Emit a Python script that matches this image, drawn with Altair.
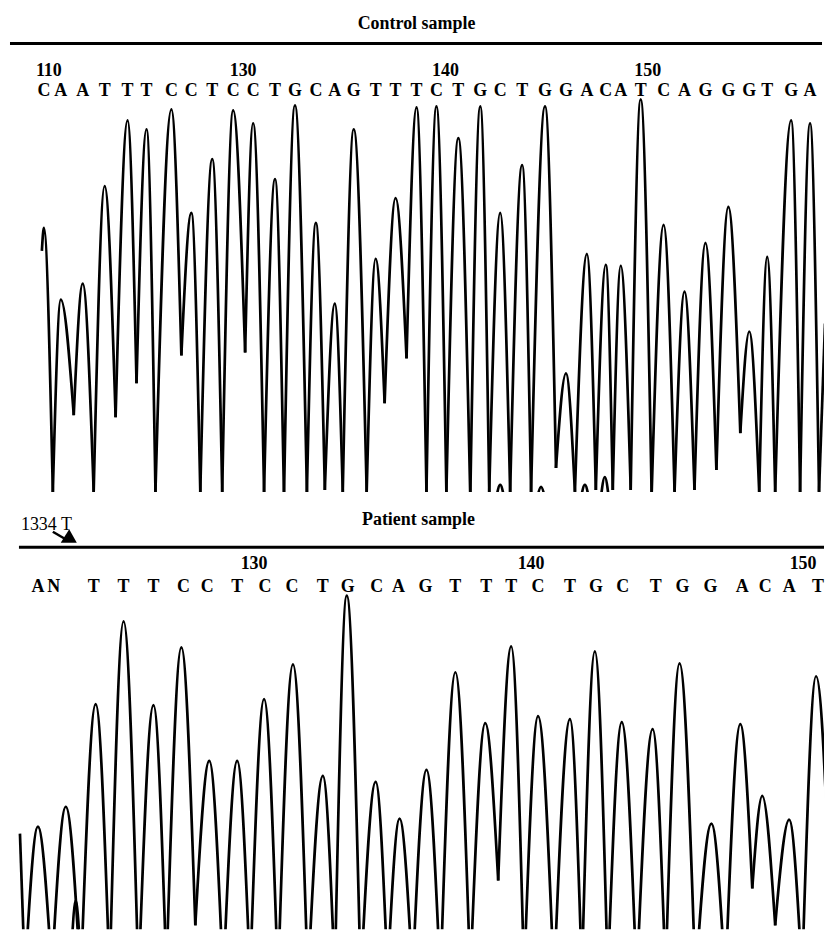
import altair as alt
import pandas as pd

FONT = "Liberation Serif"

# ---------------- text content ----------------
TOP_TITLE = "Control sample"
BOTTOM_TITLE = "Patient sample"
MUTATION_LABEL = "1334 T"

TOP_BASES = list("CAATTTCCTCCTGCAGTTTCTGCTGGACATCAGGGTGA")
TOP_BASE_POS = [43, 60, 82, 104, 127, 146, 171, 191, 212, 233, 253, 275, 295, 316, 335,
                354, 376, 396, 417, 437, 459, 481, 501, 523, 546, 567, 588, 607, 622, 642,
                665, 686, 707, 730, 751, 769, 793, 812]
TOP_TICK_LABELS = ["110", "130", "140", "150"]
TOP_TICK_POS = [48, 243, 446, 649]

BOTTOM_BASES = list("ANTTTCCTCCTGCAGTTTCTGCTGGACAT")
BOTTOM_BASE_POS = [37, 53, 93, 123, 153, 183, 207, 237, 265, 292, 323, 348, 377, 399, 426,
                   456, 487, 512, 539, 571, 597, 624, 657, 684, 712, 744, 767, 791, 820]
BOTTOM_TICK_LABELS = ["130", "140", "150"]
BOTTOM_TICK_POS = [254, 532, 805]

# ---------------- trace values (scan position, signal) ----------------
TOP_PEAK_POS = [43, 60, 82, 104, 127, 146, 171, 191, 212, 233, 253, 275, 295, 316, 335,
                354, 376, 396, 417, 437, 459, 481, 501, 523, 546, 567, 588, 607, 622, 642,
                665, 686, 707, 730, 751, 769, 793, 812, 827]
TOP_PEAK_HEIGHT = [265, 193, 209, 307, 373, 364, 384, 280, 334, 383, 370, 314, 388, 270, 189,
                   364, 234, 295, 386, 387, 355, 387, 280, 328, 387, 119, 239, 228, 227, 394,
                   268, 201, 250, 286, 161, 236, 373, 370, 169]
TOP_VALLEY_POS = [41, 52, 73, 93, 115, 136, 155, 181, 200, 222, 245, 264, 284, 307, 325,
                  343, 367, 385, 407, 427, 447, 471, 490, 511, 532, 557, 576, 597, 614, 632,
                  653, 676, 696, 718, 742, 761, 777, 802, 821]
TOP_VALLEY_HEIGHT = [242, 0, 77, 0, 75, 109, 0, 137, 0, 0, 140, 0, -5, 0, 2,
                     0, 0, 89, 134, 0, 0, -6, 0, 0, 0, 24, 0, 2, 2, 2,
                     -3, 0, 2, 22, 59, -1, -1, 0, 0]
TOP_MINOR_POS = [501, 542, 586, 606]
TOP_MINOR_HEIGHT = [7, 5, 7, 15]

BOT_PEAK_POS = [19, 37, 65, 95, 123, 153, 181, 209, 237, 264, 293, 323, 347, 376, 400,
                427, 456, 486, 512, 539, 571, 596, 623, 654, 681, 713, 742, 764, 791, 818]
BOT_PEAK_HEIGHT = [104, 111, 131, 234, 317, 233, 291, 177, 177, 239, 274, 162, 343, 156, 119,
                   168, 266, 215, 292, 222, 219, 287, 216, 209, 275, 114, 214, 142, 118, 262]
BOT_VALLEY_POS = [24, 51, 80, 109, 138, 166, 195, 223, 250, 278, 308, 335, 361, 388, 413,
                  441, 471, 499, 525, 555, 583, 609, 638, 667, 697, 727, 754, 777, 804, 836]
BOT_VALLEY_HEIGHT = [-40, -35, -45, -40, -45, -35, 12, -45, -40, -45, -45, -40, -45, -38, -40,
                     -45, -40, 57, -40, -45, -38, -40, -45, -38, -45, -45, 49, 12, -40, -60]
BOT_MINOR_POS = [75]
BOT_MINOR_HEIGHT = [37]

X_DOMAIN = [8, 826]
TOP_Y_DOMAIN = [0, 484]
BOT_Y_DOMAIN = [8, 447]
W = 818
TOP_H = 484
BOT_H = 439


def build_arches(peak_pos, peak_h, valley_pos, valley_h, minor_pos, minor_h, foot=-6):
    pts = sorted([(x, h, "P") for x, h in zip(peak_pos, peak_h)] +
                 [(x, h, "V") for x, h in zip(valley_pos, valley_h)], key=lambda p: p[0])
    rows = []
    aid = 0
    for k, (x, h, kind) in enumerate(pts):
        if kind != "P":
            continue
        for j in (k - 1, k, k + 1):
            if 0 <= j < len(pts) and (j == k or pts[j][2] == "V"):
                rows.append({"arch": aid, "pos": pts[j][0], "signal": pts[j][1]})
        aid += 1
    for x, h in zip(minor_pos, minor_h):
        for px, py in ((x - 4, foot), (x, h), (x + 4, foot)):
            rows.append({"arch": aid, "pos": px, "signal": py})
        aid += 1
    return pd.DataFrame(rows)


def xscale():
    return alt.Scale(domain=X_DOMAIN, nice=False, zero=False)


def trace(df, ydom):
    return alt.Chart(df).mark_line(
        interpolate="monotone", color="black", strokeWidth=2.7, clip=True
    ).encode(
        x=alt.X("pos:Q", scale=xscale(), axis=None),
        y=alt.Y("signal:Q", scale=alt.Scale(domain=ydom, nice=False, zero=False), axis=None),
        detail="arch:N",
        order="pos:Q",
    )


def text_row(labels, pos, ypx, size, weight="bold"):
    df = pd.DataFrame({"label": labels, "pos": pos})
    return alt.Chart(df).mark_text(
        font=FONT, fontSize=size, fontWeight=weight, color="black", baseline="alphabetic",
        align="center"
    ).encode(x=alt.X("pos:Q", scale=xscale(), axis=None), y=alt.value(ypx), text="label:N")


def label(text, xpx, ypx, size, weight="bold", align="center"):
    return alt.Chart(pd.DataFrame({"t": [text]})).mark_text(
        font=FONT, fontSize=size, fontWeight=weight, color="black", baseline="alphabetic",
        align=align
    ).encode(x=alt.value(xpx), y=alt.value(ypx), text="t:N")


def hline(x1, x2, ypx, w=3):
    return alt.Chart(pd.DataFrame({"a": [0]})).mark_rule(color="black", strokeWidth=w).encode(
        x=alt.value(x1), x2=alt.value(x2), y=alt.value(ypx))


top_df = build_arches(TOP_PEAK_POS, TOP_PEAK_HEIGHT, TOP_VALLEY_POS, TOP_VALLEY_HEIGHT,
                      TOP_MINOR_POS, TOP_MINOR_HEIGHT)
bot_df = build_arches(BOT_PEAK_POS, BOT_PEAK_HEIGHT, BOT_VALLEY_POS, BOT_VALLEY_HEIGHT,
                      BOT_MINOR_POS, BOT_MINOR_HEIGHT)

top = alt.layer(
    trace(top_df, TOP_Y_DOMAIN),
    label(TOP_TITLE, 409, 19, 18),
    hline(1, 816, 34),
    text_row(TOP_TICK_LABELS, TOP_TICK_POS, 67, 18),
    text_row(TOP_BASES, TOP_BASE_POS, 87, 18),
).properties(width=W, height=TOP_H)

arrow_shaft = alt.Chart(pd.DataFrame({"a": [0]})).mark_rule(color="black", strokeWidth=2.5).encode(
    x=alt.value(44), x2=alt.value(56), y=alt.value(40), y2=alt.value(47))
arrow_head = alt.Chart(pd.DataFrame({"a": [0]})).mark_point(
    shape="M 0.05 -1 L -0.95 0.6 L 0.95 0.6 Z", filled=True, color="black", opacity=1, size=289
).encode(x=alt.value(60), y=alt.value(46))

bottom = alt.layer(
    trace(bot_df, BOT_Y_DOMAIN),
    label(MUTATION_LABEL, 12, 38, 18, weight="normal", align="left"),
    arrow_shaft,
    arrow_head,
    label(BOTTOM_TITLE, 411, 33, 18),
    hline(10, 818, 55.5),
    text_row(BOTTOM_TICK_LABELS, BOTTOM_TICK_POS, 77, 18),
    text_row(BOTTOM_BASES, BOTTOM_BASE_POS, 100, 18),
).properties(width=W, height=BOT_H)

chart = alt.vconcat(top, bottom, spacing=0).properties(padding=0).configure_view(stroke=None)

chart.save("out.html", embed_options={"renderer": "svg", "actions": False})
